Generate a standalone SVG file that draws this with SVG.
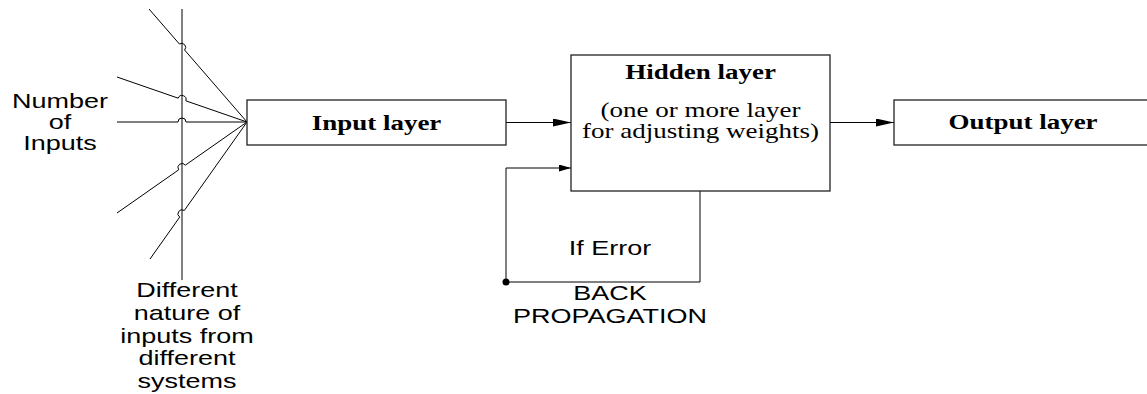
<svg xmlns="http://www.w3.org/2000/svg" width="1147" height="394" viewBox="0 0 1147 394">
<defs>
<marker id="arr" viewBox="0 0 18 8" refX="18" refY="4" markerWidth="18" markerHeight="8" markerUnits="userSpaceOnUse" orient="auto"><path d="M0,0 L18,4 L0,8 z" fill="#000"/></marker>
<marker id="arrS" viewBox="0 0 12 7" refX="12" refY="3.5" markerWidth="12" markerHeight="7" markerUnits="userSpaceOnUse" orient="auto"><path d="M0,0 L12,3.5 L0,7 z" fill="#000"/></marker>
</defs>
<style>
.box{fill:#fff;stroke:#222;stroke-width:1.3}
.ln{fill:none;stroke:#000;stroke-width:1}
.tb{font-family:"Liberation Serif","Times New Roman",serif;font-weight:bold;font-size:20px;fill:#000}
.tr{font-family:"Liberation Serif","Times New Roman",serif;font-size:20px;fill:#000}
.ta{font-family:"Liberation Sans",Arial,sans-serif;font-size:20px;fill:#000}
</style>
<rect width="1147" height="394" fill="#fff"/>

<g id="connectors">
  <path class="ln" d="M182,9 V280"/>
  <path class="ln" d="M149,9 L179.4,44.0 A4,4 0 0 1 184.6,50.0 L247,122"/>
  <path class="ln" d="M117,77 L178.2,98.2 A4,4 0 0 1 185.8,100.8 L247,122"/>
  <path class="ln" d="M117,122 H178 A4,4 0 0 1 186,122 H247"/>
  <path class="ln" d="M117,213 L178.7,169.8 A4,4 0 0 1 185.3,165.2 L247,122"/>
  <path class="ln" d="M150,259 L179.7,217.1 A4,4 0 0 1 184.3,210.5 L247,122"/>
  <path class="ln" d="M506,122.5 H571" marker-end="url(#arr)"/>
  <path class="ln" d="M830,122.5 H894" marker-end="url(#arr)"/>
  <path class="ln" d="M700,191 V282 H506 V168 H571" marker-end="url(#arrS)"/>
  <circle cx="506" cy="282" r="3.5" fill="#000"/>
</g>

<g id="label-number-inputs" class="ta" text-anchor="middle" transform="translate(60,0) scale(1.35,1)">
  <text x="0" y="108">Number</text>
  <text x="0" y="129">of</text>
  <text x="0" y="150">Inputs</text>
</g>

<g id="label-different" class="ta" text-anchor="middle" transform="translate(187,0) scale(1.35,1)">
  <text x="0" y="297">Different</text>
  <text x="0" y="320">nature of</text>
  <text x="0" y="343">inputs from</text>
  <text x="0" y="365.5">different</text>
  <text x="0" y="388">systems</text>
</g>

<g id="input-layer">
  <rect class="box" x="247" y="100" width="259" height="45"/>
  <text class="tb" text-anchor="middle" transform="translate(376.5,130) scale(1.35,1)" x="0" y="0">Input layer</text>
</g>

<g id="hidden-layer">
  <rect class="box" x="571" y="55" width="259" height="136"/>
  <g text-anchor="middle" transform="translate(700.5,0) scale(1.35,1)">
    <text class="tb" x="0" y="79">Hidden layer</text>
    <text class="tr" x="0" y="117">(one or more layer</text>
    <text class="tr" x="0" y="138">for adjusting weights)</text>
  </g>
</g>

<g id="output-layer">
  <rect class="box" x="894" y="100" width="260" height="45"/>
  <text class="tb" text-anchor="middle" transform="translate(1023,129) scale(1.35,1)" x="0" y="0">Output layer</text>
</g>

<g id="label-if-error">
  <text class="ta" text-anchor="middle" transform="translate(610,255) scale(1.35,1)" x="0" y="0">If Error</text>
</g>

<g id="label-backprop" class="ta" text-anchor="middle" transform="translate(610,0) scale(1.35,1)">
  <text x="0" y="300">BACK</text>
  <text x="0" y="323">PROPAGATION</text>
</g>
</svg>
